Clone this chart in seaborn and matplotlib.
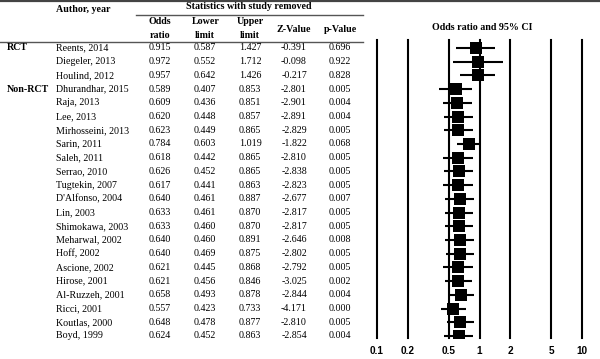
import matplotlib
matplotlib.use("Agg")
import matplotlib.pyplot as plt
from matplotlib.lines import Line2D
import numpy as np
import pandas as pd
import seaborn as sns

# ---------------- data ----------------
groups = ["RCT", "", "", "Non-RCT"] + [""] * 18
authors = ["Reents, 2014", "Diegeler, 2013", "Houlind, 2012", "Dhurandhar, 2015",
           "Raja, 2013", "Lee, 2013", "Mirhosseini, 2013", "Sarin, 2011",
           "Saleh, 2011", "Serrao, 2010", "Tugtekin, 2007", "D'Alfonso, 2004",
           "Lin, 2003", "Shimokawa, 2003", "Meharwal, 2002", "Hoff, 2002",
           "Ascione, 2002", "Hirose, 2001", "Al-Ruzzeh, 2001", "Ricci, 2001",
           "Koutlas, 2000", "Boyd, 1999"]
odds = [0.915, 0.972, 0.957, 0.589, 0.609, 0.620, 0.623, 0.784, 0.618, 0.626,
        0.617, 0.640, 0.633, 0.633, 0.640, 0.640, 0.621, 0.621, 0.658, 0.557,
        0.648, 0.624]
lower = [0.587, 0.552, 0.642, 0.407, 0.436, 0.448, 0.449, 0.603, 0.442, 0.452,
         0.441, 0.461, 0.461, 0.460, 0.460, 0.469, 0.445, 0.456, 0.493, 0.423,
         0.478, 0.452]
upper = [1.427, 1.712, 1.426, 0.853, 0.851, 0.857, 0.865, 1.019, 0.865, 0.865,
         0.863, 0.887, 0.870, 0.870, 0.891, 0.875, 0.868, 0.846, 0.878, 0.733,
         0.877, 0.863]
zvals = [-0.391, -0.098, -0.217, -2.801, -2.901, -2.891, -2.829, -1.822, -2.810,
         -2.838, -2.823, -2.677, -2.817, -2.817, -2.646, -2.802, -2.792, -3.025,
         -2.844, -4.171, -2.810, -2.854]
pvals = [0.696, 0.922, 0.828, 0.005, 0.004, 0.004, 0.005, 0.068, 0.005, 0.005,
         0.005, 0.007, 0.005, 0.005, 0.008, 0.005, 0.005, 0.002, 0.004, 0.000,
         0.005, 0.004]
ticks = [0.1, 0.2, 0.5, 1, 2, 5, 10]
tick_labels = ["0.1", "0.2", "0.5", "1", "2", "5", "10"]

df = pd.DataFrame({"group": groups, "author": authors, "odds": odds,
                   "lower": lower, "upper": upper, "z": zvals, "p": pvals})
df["row"] = np.arange(len(df))

# ---------------- figure ----------------
W, H = 600, 359
fig = plt.figure(figsize=(6.0, 3.59), dpi=100)
fig.patch.set_facecolor("white")

SERIF = ["Liberation Serif", "DejaVu Serif"]
FS = 7.2

def fy(py):
    return 1 - py / H

def fx(px):
    return px / W

def txt(px, py, s, ha="center", bold=False, size=FS, family=SERIF):
    fig.text(fx(px), fy(py), s, ha=ha, va="center", fontsize=size,
             fontweight="bold" if bold else "normal", family=family, color="black")

def hline(x0, x1, py, lw=1.0, color="#555555"):
    fig.add_artist(Line2D([fx(x0), fx(x1)], [fy(py), fy(py)], lw=lw, color=color,
                          transform=fig.transFigure))

# table lines
hline(0, 600, 1, lw=1.6, color="#444444")
hline(136, 363, 14.5, lw=1.0)
hline(0, 363, 41.5, lw=1.0)

# headers
txt(83, 9, "Author, year", bold=True)
txt(249, 6.5, "Statistics with study removed", bold=True)
txt(160, 22, "Odds", bold=True)
txt(160, 35, "ratio", bold=True)
txt(206, 22, "Lower", bold=True)
txt(205, 35, "limit", bold=True)
txt(250, 22, "Upper", bold=True)
txt(250, 35, "limit", bold=True)
txt(294, 29, "Z-Value", bold=True)
txt(340, 29, "p-Value", bold=True)
txt(482, 28, "Odds ratio and 95% CI", bold=True)

# table rows
row0, dy = 48.0, 288.0 / 21
for i, r in df.iterrows():
    py = row0 + i * dy
    if r["group"]:
        txt(7, py, r["group"], ha="left", bold=True)
    txt(56, py, r["author"], ha="left")
    txt(160, py, f"{r['odds']:.3f}")
    txt(205, py, f"{r['lower']:.3f}")
    txt(250, py, f"{r['upper']:.3f}")
    txt(294, py, f"{r['z']:.3f}")
    txt(340, py, f"{r['p']:.3f}")

# forest axis
ax_left, ax_right = 377, 582
ax_top, ax_bot = 40, 338
ax = fig.add_axes([fx(ax_left), fy(ax_bot), (ax_right - ax_left) / W, (ax_bot - ax_top) / H])
ax.set_xscale("log")
ax.set_xlim(0.1, 10)
ylo = -(row0 - ax_top) / dy
yhi = (len(df) - 1) + (ax_bot - (row0 + (len(df) - 1) * dy)) / dy
ax.set_ylim(yhi, ylo)

for t in ticks:
    ax.axvline(t, color="black", lw=1.5, zorder=1, clip_on=False)

ax.hlines(df["row"], df["lower"], df["upper"], color="black", lw=1.5, zorder=2)
sns.scatterplot(data=df, x="odds", y="row", marker="s", s=72, color="black",
                edgecolor="black", linewidth=0, ax=ax, zorder=3, legend=False)

for sp in ax.spines.values():
    sp.set_visible(False)
ax.set_xlabel("")
ax.set_ylabel("")
ax.set_yticks([])
ax.set_xticks(ticks)
ax.set_xticklabels(tick_labels)
ax.xaxis.set_minor_locator(matplotlib.ticker.NullLocator())
ax.tick_params(axis="x", length=0, pad=6)
for lab in ax.get_xticklabels():
    lab.set_fontfamily(["Liberation Sans", "DejaVu Sans"])
    lab.set_fontweight("bold")
    lab.set_fontsize(7.2)
ax.patch.set_alpha(0)

fig.savefig("out.png", dpi=100, facecolor="white")
